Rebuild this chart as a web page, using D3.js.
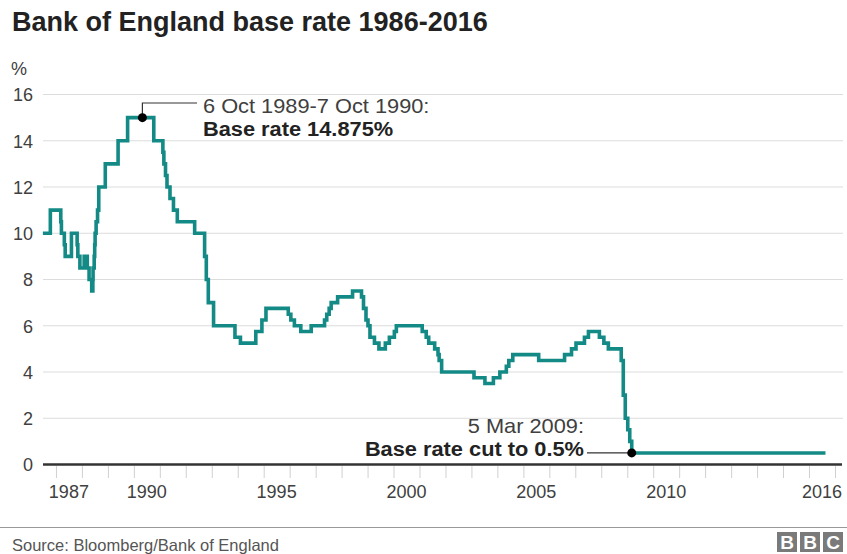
<!DOCTYPE html>
<html>
<head>
<meta charset="utf-8">
<script src="https://cdn.jsdelivr.net/npm/d3@7"></script>
<style>
  html, body { margin: 0; padding: 0; background: #fff; }
  svg { display: block; font-family: "Liberation Sans", Arial, Helvetica, sans-serif; }
</style>
</head>
<body>
<svg id="chart" width="847" height="554"></svg>
<script>
// ---- Data ----
const rateDates = [
  "1986-07-01","1986-10-14","1987-03-10","1987-03-19","1987-04-29","1987-05-11","1987-08-07","1987-10-26",
  "1987-11-05","1987-12-04","1988-02-02","1988-03-17","1988-04-11","1988-05-18","1988-06-03","1988-06-06",
  "1988-06-22","1988-06-29","1988-07-05","1988-07-19","1988-08-08","1988-08-25","1988-11-25","1989-05-24",
  "1989-10-05","1990-10-08","1991-02-13","1991-02-27","1991-03-22","1991-04-12","1991-05-24","1991-07-12",
  "1991-09-04","1992-05-05","1992-09-22","1992-10-16","1992-11-13","1993-01-26","1993-11-23","1994-02-08",
  "1994-09-12","1994-12-07","1995-02-02","1995-12-13","1996-01-18","1996-03-08","1996-06-06","1996-10-30",
  "1997-05-06","1997-06-06","1997-07-10","1997-08-07","1997-11-06","1998-06-04","1998-10-08","1998-11-05",
  "1998-12-10","1999-01-07","1999-02-04","1999-04-08","1999-06-10","1999-09-08","1999-11-04","2000-01-13",
  "2000-02-10","2001-02-08","2001-04-05","2001-05-10","2001-08-02","2001-09-18","2001-10-04","2001-11-08",
  "2003-02-06","2003-07-10","2003-11-06","2004-02-05","2004-05-06","2004-06-10","2004-08-05","2005-08-04",
  "2006-08-03","2006-11-09","2007-01-11","2007-05-10","2007-07-05","2007-12-06","2008-02-07","2008-04-10",
  "2008-10-08","2008-11-06","2008-12-04","2009-01-08","2009-02-05","2009-03-05","2016-08-20"
];
const rateValues = [
  10,11,10.5,10,9.5,9,10,9.5,
  9,8.5,9,8.5,8,7.5,8,8.5,
  9,9.5,10,10.5,11,12,13,14,
  15,14,13.5,13,12.5,12,11.5,11,
  10.5,10,9,8,7,6,5.5,5.25,
  5.75,6.25,6.75,6.5,6.25,6,5.75,6,
  6.25,6.5,6.75,7,7.25,7.5,7.25,6.75,
  6.25,6,5.5,5.25,5,5.25,5.5,5.75,
  6,5.75,5.5,5.25,5,4.75,4.5,4,
  3.75,3.5,3.75,4,4.25,4.5,4.75,4.5,
  4.75,5,5.25,5.5,5.75,5.5,5.25,5,
  4.5,3,2,1.5,1,0.5,0.5
];
const yTicks = [0, 2, 4, 6, 8, 10, 12, 14, 16];
const xLabelYears = [1987, 1990, 1995, 2000, 2005, 2010, 2016];
const tickYears = d3.range(1987, 2018);

const titleText = "Bank of England base rate 1986-2016";
const unitText = "%";
const sourceText = "Source: Bloomberg/Bank of England";
const note1Date = "1990-05-01", note1Value = 15;
const note1Lines = ["6 Oct 1989-7 Oct 1990:", "Base rate 14.875%"];
const note2Date = "2009-03-05", note2Value = 0.5;
const note2Lines = ["5 Mar 2009:", "Base rate cut to 0.5%"];

// ---- Setup ----
const parse = d3.timeParse("%Y-%m-%d");
const data = rateDates.map((d, i) => ({ date: parse(d), value: rateValues[i] }));

const svg = d3.select("#chart");
const x = d3.scaleTime()
  .domain([new Date(1986, 0, 1), new Date(2017, 0, 1)])
  .range([30, 835]);
const y = d3.scaleLinear().domain([0, 16]).range([464.5, 94.5]);

const plotLeft = 43, plotRight = 843;
const textCol = "#404040";
const teal = "#138a85";

// Title
svg.append("text")
  .attr("x", 12).attr("y", 31)
  .attr("font-size", 27).attr("font-weight", "bold").attr("fill", "#222")
  .text(titleText);

// Unit label
svg.append("text")
  .attr("x", 11).attr("y", 75)
  .attr("font-size", 18).attr("fill", textCol)
  .text(unitText);

// Gridlines
svg.append("g").selectAll("line")
  .data(yTicks.filter(d => d > 0))
  .join("line")
  .attr("x1", plotLeft).attr("x2", plotRight)
  .attr("y1", d => y(d)).attr("y2", d => y(d))
  .attr("stroke", "#dcdcdc").attr("stroke-width", 1);

// Y axis labels
const yAxis = d3.axisLeft(y).tickValues(yTicks).tickSize(0).tickPadding(0);
const gy = svg.append("g").attr("transform", "translate(33,0)").call(yAxis);
gy.select(".domain").remove();
gy.selectAll("text").attr("font-size", 18).attr("fill", textCol)
  .attr("font-family", "'Liberation Sans', Arial, sans-serif").attr("dy", "0.36em");

// X ticks (year boundaries)
const xAxis = d3.axisBottom(x)
  .tickValues(tickYears.map(yr => new Date(yr, 0, 1)))
  .tickSize(12).tickFormat("");
const gx = svg.append("g").attr("transform", "translate(0,466)").call(xAxis);
gx.select(".domain").remove();
gx.selectAll(".tick line").attr("stroke", "#d0d0d0").attr("stroke-width", 1);

// X labels (mid-year)
svg.append("g").selectAll("text")
  .data(xLabelYears)
  .join("text")
  .attr("x", d => x(new Date(d, 6, 2)))
  .attr("y", 498)
  .attr("text-anchor", "middle")
  .attr("font-size", 18).attr("fill", textCol)
  .text(d => d);

// Zero baseline
svg.append("line")
  .attr("x1", plotLeft).attr("x2", 842)
  .attr("y1", y(0)).attr("y2", y(0))
  .attr("stroke", "#333").attr("stroke-width", 2.6);

// Rate line
const line = d3.line()
  .x(d => x(d.date)).y(d => y(d.value))
  .curve(d3.curveStepAfter);
svg.append("path")
  .datum(data)
  .attr("d", line)
  .attr("fill", "none")
  .attr("stroke", teal)
  .attr("stroke-width", 3.6)
  .attr("stroke-linejoin", "miter");

// Annotation text helper: slightly wide glyphs like the reference
const noteSize = 20.3, stretch = 21.8 / 20.3;
function note(xp, yp, txt, bold, anchor) {
  const t = svg.append("text").attr("x", xp).attr("y", yp)
    .attr("text-anchor", anchor)
    .attr("font-size", noteSize)
    .attr("font-weight", bold ? "bold" : "normal")
    .attr("fill", bold ? "#222" : textCol)
    .text(txt);
  const w = t.node().getComputedTextLength();
  t.attr("textLength", w * stretch).attr("lengthAdjust", "spacingAndGlyphs");
  return t;
}

// Annotation 1
const n1x = x(parse(note1Date)), n1y = y(note1Value);
svg.append("polyline")
  .attr("points", `${n1x},${n1y} ${n1x},103 197,103`)
  .attr("fill", "none").attr("stroke", "#333").attr("stroke-width", 1.2);
svg.append("circle").attr("cx", n1x).attr("cy", n1y).attr("r", 4.5).attr("fill", "#000");
note(203, 112.5, note1Lines[0], false, "start");
note(203, 135.5, note1Lines[1], true, "start");

// Annotation 2
const n2x = x(parse(note2Date)), n2y = y(note2Value);
svg.append("line")
  .attr("x1", 587).attr("x2", n2x).attr("y1", n2y).attr("y2", n2y)
  .attr("stroke", "#333").attr("stroke-width", 1.2);
svg.append("circle").attr("cx", n2x).attr("cy", n2y).attr("r", 4.5).attr("fill", "#000");
note(584, 432.5, note2Lines[0], false, "end");
note(584, 456, note2Lines[1], true, "end");

// Footer
svg.append("line")
  .attr("x1", 0).attr("x2", 847).attr("y1", 527.5).attr("y2", 527.5)
  .attr("stroke", "#999").attr("stroke-width", 1);
svg.append("text")
  .attr("x", 12).attr("y", 551)
  .attr("font-size", 16.5).attr("fill", "#555")
  .text(sourceText);

const logo = svg.append("g").attr("transform", "translate(777,532)");
["B", "B", "C"].forEach((ch, i) => {
  logo.append("rect").attr("x", i * 23).attr("y", 0).attr("width", 20).attr("height", 20).attr("fill", "#7a7a7a");
  logo.append("text").attr("x", i * 23 + 10).attr("y", 17).attr("text-anchor", "middle")
    .attr("font-size", 19).attr("font-weight", "bold").attr("fill", "#fff").text(ch);
});
</script>
</body>
</html>
